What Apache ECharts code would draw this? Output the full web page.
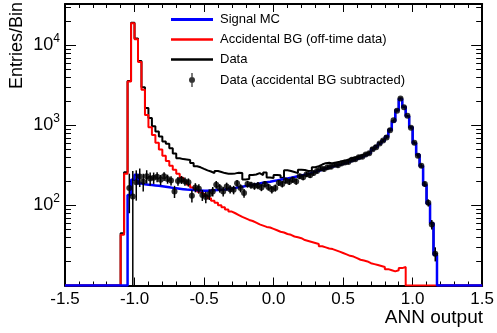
<!DOCTYPE html>
<html>
<head>
<meta charset="utf-8">
<script src="https://cdn.jsdelivr.net/npm/echarts@6/dist/echarts.min.js"></script>
<style>
  html, body { margin: 0; padding: 0; background: #ffffff; }
  #chart { width: 497px; height: 333px; }
</style>
</head>
<body>
<div id="chart"></div>
<script>
// Histogram binning of the ANN output: 120 bins of 0.025 from -1.5 to 1.5
const BIN_LO = -1.5;
const BIN_W = 0.025;
const N_BINS = 120;
const Y_MIN = 10;
const Y_MAX = 33000;

// Accidental background (off-time data), bins 16..97
const accidentalFirstBin = 16;
const accidentalBG = [
  43, 250, 3550, 19000, 12000, 6200, 2800, 1350, 950, 760,
  610, 500, 420, 360, 315, 280, 250, 222, 200, 182,
  168, 157, 148, 140, 131, 123, 115, 108, 101, 95,
  89, 84, 80, 76, 72, 69, 66, 64, 61, 58,
  56, 54, 53, 51, 49, 47, 46, 44, 43, 41,
  40, 39, 37, 36, 35, 34, 33, 31, 30, 29,
  28.5, 27.5, 26.5, 25.5, 24.5, 23.5, 23, 22, 21, 20.5,
  20, 19, 18.5, 18, 17.5, 17, 16, 15.5, 15, 15.5,
  16.5, 17
];

// Data (on-time), bins 16..106
const dataFirstBin = 16;
const dataHist = [
  45, 260, 3600, 19200, 12200, 6400, 3000, 1650, 1240, 975,
  840, 730, 630, 590, 520, 445, 390, 380, 375, 370,
  340, 310, 300, 287, 275, 266, 254, 270, 262, 254,
  250, 250, 252, 256, 254, 212, 215, 240, 244, 254,
  240, 258, 224, 220, 240, 238, 222, 276, 270, 262,
  254, 280, 278, 270, 272, 300, 310, 325, 338, 342,
  336, 345, 352, 360, 368, 382, 395, 404, 418, 436,
  452, 476, 520, 558, 605, 655, 735, 895, 1140, 1570,
  2170, 1720, 1310, 955, 605, 435, 312, 182, 106, 61,
  25
];

// Signal Monte Carlo, bins 18..106
const signalFirstBin = 18;
const signalMC = [
  135, 210, 242, 188, 184, 182, 180, 178, 176, 174,
  172, 169, 166, 164, 162, 160, 158, 157, 156, 155,
  154, 153, 153, 154, 155, 156, 157, 158, 160, 162,
  166, 169, 172, 175, 178, 181, 184, 188, 192, 195,
  198, 202, 206, 210, 214, 218, 222, 227, 232, 237,
  242, 248, 256, 264, 272, 280, 290, 298, 306, 314,
  322, 332, 342, 355, 368, 380, 395, 412, 432, 455,
  500, 540, 590, 640, 720, 880, 1120, 1550, 2150, 1700,
  1300, 950, 600, 430, 310, 180, 105, 60, 24
];

// Data with the accidental background subtracted, bins 18..106, with errors
const subtractedFirstBin = 18;
const subtracted = [
  165, 130, 195, 230, 200, 232, 218, 222, 228, 210,
  232, 215, 205, 150, 202, 210, 200, 195, 132, 168,
  162, 135, 128, 138, 150, 182, 165, 150, 173, 160,
  157, 190, 165, 143, 185, 180, 175, 178, 168, 185,
  170, 158, 166, 192, 185, 205, 198, 210, 200, 232,
  225, 245, 238, 255, 270, 290, 285, 300, 305, 322,
  318, 335, 345, 350, 372, 378, 400, 408, 435, 450,
  505, 535, 595, 650, 710, 870, 1160, 1530, 2180, 1690,
  1320, 940, 610, 420, 315, 185, 108, 58, 25
];
const subtractedErr = [
  85, 140, 80, 60, 50, 44, 40, 36, 33, 31,
  29, 28, 27, 26, 25, 24, 24, 23, 23, 22,
  22, 21, 21, 21, 20, 20, 20, 20, 20, 19,
  19, 19, 19, 18, 18, 18, 18, 18, 17, 17,
  17, 17, 17, 17, 17, 18, 18, 18, 18, 18,
  18, 18, 18, 19, 19, 19, 19, 19, 19, 20,
  20, 20, 20, 21, 21, 21, 21, 22, 22, 23,
  23, 24, 25, 26, 27, 30, 34, 40, 47, 41,
  36, 31, 25, 21, 18, 14, 11, 8, 5
];

const X_TICKS_MAJOR = 0.5;
const Y_MAJOR_TICKS = [10, 100, 1000, 10000];
const Y_LABELS = [100, 1000, 10000];
const Y_MINOR_TICKS = [20, 30, 40, 50, 60, 70, 80, 90,
  200, 300, 400, 500, 600, 700, 800, 900,
  2000, 3000, 4000, 5000, 6000, 7000, 8000, 9000,
  20000, 30000];

const FONT = 'Liberation Sans, Arial, Helvetica, sans-serif';

// Step outline of a histogram: one point per left bin edge plus the final edge.
// Empty bins sit on the floor of the log axis.
function histogramSteps(values, firstBin) {
  const pts = [];
  let last = Y_MIN;
  for (let k = 0; k < N_BINS; k++) {
    const i = k - firstBin;
    const v = (i >= 0 && i < values.length) ? values[i] : 0;
    last = v > 0 ? v : Y_MIN;
    pts.push([BIN_LO + k * BIN_W, last]);
  }
  pts.push([BIN_LO + N_BINS * BIN_W, last]);
  return pts;
}

function pointData(values, errors, firstBin) {
  return values.map((v, i) => [BIN_LO + (firstBin + i + 0.5) * BIN_W, v, errors[i]]);
}

// Legend glyphs: a plain horizontal stroke for the histograms, dot with bar for points
function lineIcon(thickness) {
  return 'path://M0,0H42V' + thickness + 'H0Z';
}
const POINT_ICON = 'path://M2.35,0H3.65V14H2.35Z M0,7A3,3 0 1 1 6,7A3,3 0 1 1 0,7Z';

const chart = echarts.init(document.getElementById('chart'), null, { renderer: 'canvas' });

const tickStyle = { color: '#000', width: 1 };
const axisLineStyle = { color: '#000', width: 2 };

function xAxisDef(position, showLabel) {
  return {
    type: 'value', position: position, min: -1.5, max: 1.5, interval: X_TICKS_MAJOR,
    axisLine: { show: true, onZero: false, lineStyle: axisLineStyle },
    axisTick: { show: true, inside: true, length: 8, lineStyle: tickStyle },
    minorTick: { show: true, splitNumber: 5, length: 4, lineStyle: tickStyle },
    splitLine: { show: false }, minorSplitLine: { show: false },
    axisLabel: {
      show: showLabel, color: '#000', fontSize: 17, fontFamily: FONT, margin: 5,
      formatter: v => v.toFixed(1)
    }
  };
}

function yAxisDef(position, ticks, len, showLine, labels) {
  return {
    type: 'log', logBase: 10, position: position, min: Y_MIN, max: Y_MAX,
    axisLine: { show: showLine, onZero: false, lineStyle: axisLineStyle },
    axisTick: { show: true, inside: true, length: len, customValues: ticks, lineStyle: tickStyle },
    splitLine: { show: false },
    axisLabel: labels ? {
      show: true, customValues: labels, margin: 5, color: '#000',
      formatter: v => '{b|10}{s|' + Math.round(Math.log10(v)) + '}',
      rich: {
        b: { fontSize: 18, lineHeight: 26, fontFamily: FONT, color: '#000', verticalAlign: 'middle' },
        s: { fontSize: 12, lineHeight: 10, fontFamily: FONT, color: '#000', verticalAlign: 'top' }
      }
    } : { show: false }
  };
}

const option = {
  animation: false,
  backgroundColor: '#ffffff',
  grid: { left: 65, right: 13.5, top: 4, bottom: 47.5, containLabel: false },
  xAxis: [xAxisDef('bottom', true), xAxisDef('top', false)],
  yAxis: [
    yAxisDef('left', Y_MAJOR_TICKS, 11, true, Y_LABELS),
    yAxisDef('left', Y_MINOR_TICKS, 6, false, null),
    yAxisDef('right', Y_MAJOR_TICKS, 11, true, null),
    yAxisDef('right', Y_MINOR_TICKS, 6, false, null)
  ],
  legend: {
    orient: 'vertical', left: 171, top: 13, padding: 0,
    itemWidth: 42, itemHeight: 14, itemGap: 7, selectedMode: false,
    textStyle: { fontSize: 13, fontFamily: FONT, color: '#000', padding: [0, 0, 0, 2] },
    data: [
      { name: 'Signal MC', icon: lineIcon(3), itemStyle: { color: '#0000ff' } },
      { name: 'Accidental BG (off-time data)', icon: lineIcon(2.5), itemStyle: { color: '#ff0000' } },
      { name: 'Data', icon: lineIcon(2.5), itemStyle: { color: '#000000' } },
      { name: 'Data (accidental BG subtracted)', icon: POINT_ICON, itemStyle: { color: '#000000' } }
    ]
  },
  graphic: [
    {
      type: 'text', x: 17, y: 2, rotation: Math.PI / 2,
      style: { text: 'Entries/Bin', fontSize: 18, fontFamily: FONT, fill: '#000',
        textAlign: 'right', textVerticalAlign: 'middle' }
    },
    {
      type: 'text', x: 483, y: 318,
      style: { text: 'ANN output', fontSize: 19, fontFamily: FONT, fill: '#000',
        textAlign: 'right', textVerticalAlign: 'middle' }
    }
  ],
  series: [
    {
      name: 'Data', type: 'line', step: 'end', symbol: 'none', z: 2,
      color: '#000000', lineStyle: { color: '#000000', width: 2 },
      data: histogramSteps(dataHist, dataFirstBin)
    },
    {
      name: 'Accidental BG (off-time data)', type: 'line', step: 'end', symbol: 'none', z: 3,
      color: '#ff0000', lineStyle: { color: '#ff0000', width: 2 },
      data: histogramSteps(accidentalBG, accidentalFirstBin)
    },
    {
      name: 'Signal MC', type: 'line', step: 'end', symbol: 'none', z: 4,
      color: '#0000ff', lineStyle: { color: '#0000ff', width: 2.5 },
      data: histogramSteps(signalMC, signalFirstBin)
    },
    {
      name: 'subtractedErrors', type: 'custom', z: 5,
      data: pointData(subtracted, subtractedErr, subtractedFirstBin),
      renderItem: function (params, api) {
        const x = api.value(0), y = api.value(1), e = api.value(2);
        const cs = params.coordSys;
        const hi = api.coord([x, Math.min(y + e, Y_MAX)]);
        const lo = (y - e) > Y_MIN ? api.coord([x, y - e]) : [hi[0], cs.y + cs.height];
        return {
          type: 'line',
          shape: { x1: hi[0], y1: hi[1], x2: lo[0], y2: lo[1] },
          style: { stroke: '#000000', lineWidth: 1.5 }
        };
      }
    },
    {
      name: 'Data (accidental BG subtracted)', type: 'scatter', z: 6,
      symbol: 'circle', symbolSize: 6, color: '#000000',
      itemStyle: { color: '#000000' },
      data: pointData(subtracted, subtractedErr, subtractedFirstBin)
    }
  ]
};

chart.setOption(option);
</script>
</body>
</html>
